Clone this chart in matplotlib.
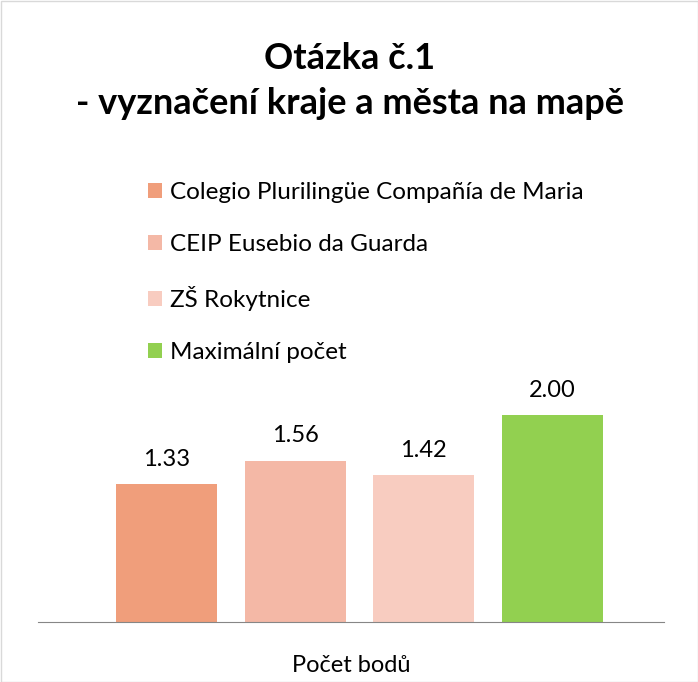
import matplotlib.pyplot as plt
from matplotlib.patches import Rectangle

plt.rcParams['font.family'] = ['Lato', 'DejaVu Sans']

schools = ['Colegio Plurilingüe Compañía de Maria', 'CEIP Eusebio da Guarda', 'ZŠ Rokytnice', 'Maximální počet']
values = [1.33, 1.56, 1.42, 2.00]
colors = ['#F09E7B', '#F4B8A6', '#F8CCC0', '#92D050']
category = 'Počet bodů'
title = 'Otázka č.1\n- vyznačení kraje a města na mapě'

W, H = 698, 682
fig = plt.figure(figsize=(W / 100, H / 100), dpi=100)

# axes placed in pixel terms
ax_left, ax_right, ax_bottom, ax_top = 38, 664, 622, 380
ax = fig.add_axes([ax_left / W, (H - ax_bottom) / H, (ax_right - ax_left) / W, (ax_bottom - ax_top) / H])

bars = []
for i, (name, v, c) in enumerate(zip(schools, values, colors)):
    b = ax.bar(i, v, width=0.786, color=c, label=name)
    bars.append(b[0])
    ax.text(i, v + 0.14, f'{v:.2f}', ha='center', va='bottom', fontsize=17, color='#000000')

ax.set_xlim(-1.002, 3.87)
ax.set_ylim(0, 2 * (ax_bottom - ax_top) / 207)
for s in ['top', 'right', 'left']:
    ax.spines[s].set_visible(False)
ax.spines['bottom'].set_color('#868686')
ax.set_xticks([])
ax.set_yticks([])
ax.set_xlabel(category, fontsize=17, labelpad=24)

fig.text(350 / W, 1 - 81 / H, title, ha='center', va='center', fontsize=26,
         fontweight='bold', linespacing=1.45)

fig.legend(handles=bars, labels=schools, loc='upper left',
           bbox_to_anchor=(126 / W, 1 - 160 / H), frameon=False, fontsize=17.5,
           handlelength=0.6, handleheight=0.6, handletextpad=0.3, labelspacing=1.28)

# chart border
fig.patches.append(Rectangle((0.5 / W, 0.5 / H), 1 - 1 / W, 1 - 1 / H, transform=fig.transFigure,
                             fill=False, edgecolor='#D9D9D9', linewidth=1))

fig.savefig('out.png', dpi=100)
